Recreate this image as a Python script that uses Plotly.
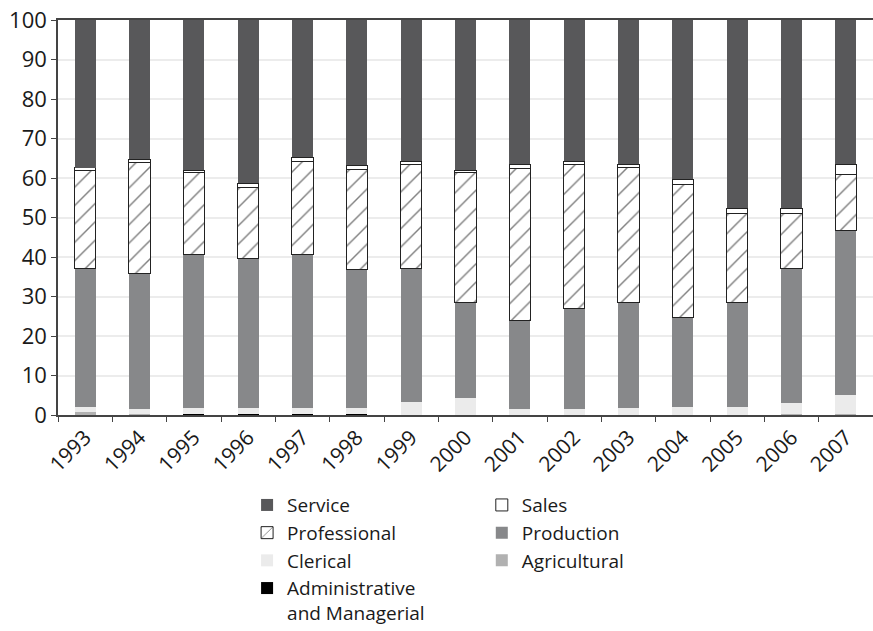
import plotly.graph_objects as go

years = [str(y) for y in range(1993, 2008)]

admin = [0, 0.2, 0.3, 0.3, 0.3, 0.3, 0, 0, 0.1, 0.1, 0.1, 0.1, 0.1, 0, 0]
agricultural = [0.8, 0.1, 0, 0, 0, 0, 0, 0, 0, 0, 0, 0, 0, 0.3, 0.3]
clerical = [1.2, 1.2, 1.5, 1.5, 1.5, 1.5, 3.3, 4.3, 1.4, 1.4, 1.7, 2.0, 2.0, 2.7, 4.8]
production = [35.1, 34.2, 38.9, 37.9, 38.9, 35.0, 33.8, 24.1, 22.5, 25.4, 26.6, 22.7, 26.3, 34.0, 41.5]
professional = [24.7, 28.3, 20.6, 18.0, 23.6, 25.4, 26.2, 32.9, 38.4, 36.4, 34.3, 33.5, 22.7, 13.9, 14.3]
sales = [0.8, 0.7, 0.7, 1.0, 1.0, 1.0, 1.0, 0.7, 1.1, 1.0, 0.8, 1.4, 1.3, 1.5, 2.6]
service = [37.4, 35.3, 38.0, 41.3, 34.7, 36.8, 35.7, 38.0, 36.5, 35.7, 36.5, 40.3, 47.6, 47.6, 36.5]

FONT = "Open Sans"
BAR_W = 0.39

fig = go.Figure()

# stacked bottom-up; left legend gets Admin/Clerical/Professional/Service
fig.add_trace(go.Bar(name="Administrative<br>and Managerial", x=years, y=admin,
                     marker=dict(color="#000000", line=dict(width=0)), width=BAR_W,
                     legend="legend"))
fig.add_trace(go.Bar(name="Agricultural", x=years, y=agricultural,
                     marker=dict(color="#b1b1b1", line=dict(width=0)), width=BAR_W,
                     legend="legend2"))
fig.add_trace(go.Bar(name="Clerical", x=years, y=clerical,
                     marker=dict(color="#ebebeb", line=dict(width=0)), width=BAR_W,
                     legend="legend"))
fig.add_trace(go.Bar(name="Production", x=years, y=production,
                     marker=dict(color="#87888a", line=dict(width=0)), width=BAR_W,
                     legend="legend2"))
fig.add_trace(go.Bar(name="Professional", x=years, y=professional,
                     marker=dict(color="white", line=dict(width=1, color="#222222"),
                                 pattern=dict(shape="/", fgcolor="#000000", bgcolor="white",
                                              size=13, solidity=0.11)),
                     width=BAR_W, legend="legend"))
fig.add_trace(go.Bar(name="Sales", x=years, y=sales,
                     marker=dict(color="white", line=dict(width=1, color="#222222")),
                     width=BAR_W, legend="legend2"))
fig.add_trace(go.Bar(name="Service", x=years, y=service,
                     marker=dict(color="#58585a", line=dict(width=0)), width=BAR_W,
                     legend="legend"))

legend_style = dict(font=dict(family=FONT, size=19, color="#1a1a1a"),
                    traceorder="reversed", valign="top",
                    bgcolor="rgba(0,0,0,0)", xanchor="left", yanchor="top")

fig.update_layout(
    barmode="stack",
    width=873, height=631,
    margin=dict(l=58, r=0, t=20, b=216, autoexpand=False),
    paper_bgcolor="white", plot_bgcolor="white",
    font=dict(family=FONT, size=21, color="#1a1a1a"),
    legend=dict(x=0.232, y=-0.18, **legend_style),
    legend2=dict(x=0.52, y=-0.18, **legend_style),
    xaxis=dict(type="category", tickangle=-45, tickson="boundaries",
               ticks="outside", ticklen=5, tickcolor="#444444",
               showline=True, mirror=True, linecolor="#444444", linewidth=1.8,
               showgrid=False, tickfont=dict(size=21)),
    yaxis=dict(range=[0, 100], dtick=10, ticks="outside", ticklen=5,
               tickcolor="#444444", showline=True, linecolor="#444444",
               linewidth=1.5, showgrid=True, gridcolor="#ececec", gridwidth=1.5,
               zeroline=False, tickfont=dict(size=22), ticklabeloverflow="allow"),
)

# drop the default body margin so the figure sits at the page corner
fig.write_html("out.html", config={"displayModeBar": False},
               post_script="document.body.style.margin='0';")
